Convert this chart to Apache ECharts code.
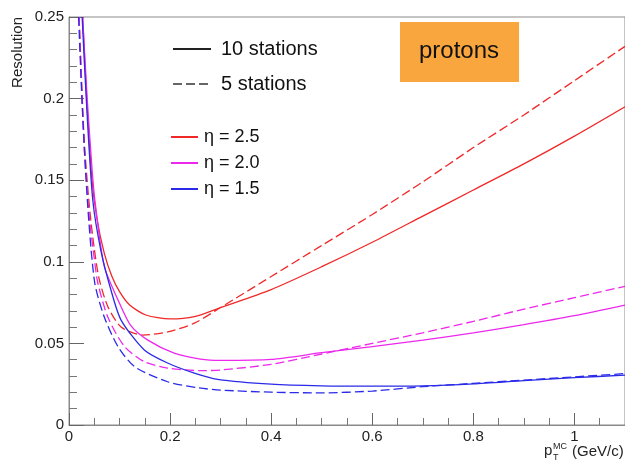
<!DOCTYPE html>
<html lang="en" style="height: 100%">
<head>
<meta charset="utf-8">
<title>Resolution vs pT - protons</title>
</head>
<body style="height: 100%; margin: 0; background: #fff">
<div id="container" style="height: 100%"></div>

<script type="text/javascript" src="https://cdn.jsdelivr.net/npm/echarts@6/dist/echarts.min.js"></script>

<script type="text/javascript">

var dom = document.getElementById('container');
var myChart = echarts.init(dom);

// [pT, resolution]
const eta25_10st = [
    [0.027, 0.25], [0.035, 0.20], [0.045, 0.152], [0.055, 0.127], [0.07, 0.105],
    [0.085, 0.091], [0.10, 0.0817], [0.12, 0.0735], [0.152, 0.0674], [0.20, 0.065],
    [0.248, 0.0664], [0.30, 0.072], [0.40, 0.083], [0.50, 0.097], [0.60, 0.112],
    [0.70, 0.128], [0.80, 0.144], [0.90, 0.160], [1.00, 0.177], [1.10, 0.195]
];
const eta25_5st = [
    [0.020, 0.25], [0.03, 0.175], [0.04, 0.135], [0.05, 0.108], [0.06, 0.089],
    [0.077, 0.0725], [0.103, 0.060], [0.146, 0.0551], [0.195, 0.057], [0.248, 0.0624],
    [0.30, 0.072], [0.40, 0.091], [0.50, 0.110], [0.60, 0.129], [0.70, 0.149],
    [0.80, 0.170], [0.90, 0.190], [1.00, 0.211], [1.10, 0.232]
];
const eta20_10st = [
    [0.027, 0.25], [0.036, 0.20], [0.046, 0.155], [0.053, 0.133], [0.07, 0.097],
    [0.097, 0.0766], [0.122, 0.061], [0.156, 0.052], [0.208, 0.044], [0.26, 0.0404],
    [0.30, 0.0396], [0.40, 0.0402], [0.50, 0.0443], [0.60, 0.048], [0.70, 0.052],
    [0.80, 0.0565], [0.90, 0.0615], [1.00, 0.067], [1.10, 0.0735]
];
const eta20_5st = [
    [0.020, 0.25], [0.03, 0.17], [0.04, 0.128], [0.05, 0.102], [0.057, 0.087],
    [0.077, 0.066], [0.11, 0.048], [0.149, 0.0388], [0.195, 0.0349], [0.26, 0.0333],
    [0.30, 0.0337], [0.40, 0.0372], [0.50, 0.0435], [0.60, 0.050], [0.70, 0.0565],
    [0.80, 0.0635], [0.90, 0.071], [1.00, 0.078], [1.10, 0.085]
];
const eta15_10st = [
    [0.026, 0.25], [0.035, 0.195], [0.047, 0.138], [0.063, 0.107], [0.083, 0.0827],
    [0.103, 0.0643], [0.149, 0.046], [0.195, 0.038], [0.248, 0.0318], [0.294, 0.028],
    [0.40, 0.025], [0.50, 0.024], [0.60, 0.0238], [0.70, 0.024], [0.80, 0.0252],
    [0.90, 0.0272], [1.00, 0.029], [1.10, 0.0305]
];
const eta15_5st = [
    [0.019, 0.25], [0.027, 0.19], [0.038, 0.13], [0.051, 0.087], [0.07, 0.066],
    [0.097, 0.048], [0.13, 0.0357], [0.195, 0.0265], [0.258, 0.0227], [0.30, 0.0214],
    [0.40, 0.0201], [0.50, 0.0197], [0.60, 0.0208], [0.70, 0.0235], [0.80, 0.0255],
    [0.90, 0.0275], [1.00, 0.0295], [1.10, 0.0315]
];

const stationNames = ['10 stations', '5 stations'];
const etaNames = ['\u03b7 = 2.5', '\u03b7 = 2.0', '\u03b7 = 1.5'];
const etaColors = ['#f02828', '#ec28ec', '#2a2ae8'];

const FONT = 'Liberation Sans, Arial, sans-serif';
const DASH = [9, 4];

function curve(name, data, color, dashed) {
    return {
        name: name,
        type: 'line',
        data: data,
        showSymbol: false,
        symbol: 'none',
        smooth: 0.25,
        lineStyle: { color: color, width: 1.3, type: dashed ? DASH : 'solid' },
        itemStyle: { color: color },
        z: 3
    };
}

// series used only for the legend entries
function legendOnly(name, color, dashed) {
    return {
        name: name,
        type: 'line',
        data: [],
        symbol: 'none',
        lineStyle: { color: color, width: 1.3, type: dashed ? DASH : 'solid' },
        itemStyle: { color: color }
    };
}

var option = {
    animation: false,
    backgroundColor: '#fff',
    title: {
        text: 'protons',
        left: 400,
        top: 22,
        backgroundColor: '#faa63e',
        padding: [16, 20, 17, 19],
        textStyle: { fontFamily: FONT, fontSize: 24, lineHeight: 27, fontWeight: 'normal', color: '#111' }
    },
    legend: [
        {
            data: stationNames,
            orient: 'vertical',
            left: 172,
            top: 39,
            padding: 0,
            itemWidth: 38,
            itemHeight: 20,
            itemGap: 15,
            selectedMode: false,
            itemStyle: { opacity: 0 },
            textStyle: { fontFamily: FONT, fontSize: 20, color: '#111', padding: [0, 0, 0, 5] }
        },
        {
            data: etaNames,
            orient: 'vertical',
            left: 170,
            top: 128,
            padding: 0,
            itemWidth: 27,
            itemHeight: 18,
            itemGap: 8,
            selectedMode: false,
            itemStyle: { opacity: 0 },
            textStyle: { fontFamily: FONT, fontSize: 18, color: '#111', padding: [0, 0, 0, 1] }
        }
    ],
    grid: {
        left: 69,
        top: 17,
        width: 558,
        height: 408,
        show: true,
        borderColor: '#8a8a8a',
        borderWidth: 1
    },
    xAxis: {
        type: 'value',
        min: 0,
        max: 1.1,
        interval: 0.2,
        axisLine: { lineStyle: { color: '#8a8a8a', width: 1 } },
        axisTick: { inside: true, length: 12, lineStyle: { color: '#666' } },
        minorTick: { show: true, splitNumber: 4, length: 7, lineStyle: { color: '#777' } },
        splitLine: { show: false },
        axisLabel: { fontFamily: FONT, fontSize: 15, color: '#222', margin: 4, showMaxLabel: false }
    },
    yAxis: {
        type: 'value',
        min: 0,
        max: 0.25,
        interval: 0.05,
        axisLine: { show: true, lineStyle: { color: '#8a8a8a', width: 1 } },
        axisTick: { show: true, inside: true, length: 15, lineStyle: { color: '#666' } },
        minorTick: { show: true, splitNumber: 5, length: 8, lineStyle: { color: '#777' } },
        splitLine: { show: false },
        axisLabel: { fontFamily: FONT, fontSize: 15, color: '#222', margin: 5 }
    },
    graphic: [
        {
            type: 'text',
            x: 18,
            y: 17,
            rotation: Math.PI / 2,
            style: { text: 'Resolution', font: '15px ' + FONT, fill: '#222', align: 'right', verticalAlign: 'middle' }
        },
        {
            type: 'group',
            children: [
                { type: 'text', x: 544, y: 451, style: { text: 'p', font: '15px ' + FONT, fill: '#222', verticalAlign: 'middle' } },
                { type: 'text', x: 553, y: 447, style: { text: 'MC', font: '9px ' + FONT, fill: '#222', verticalAlign: 'middle' } },
                { type: 'text', x: 553, y: 458, style: { text: 'T', font: '9px ' + FONT, fill: '#222', verticalAlign: 'middle' } },
                { type: 'text', x: 572, y: 452, style: { text: '(GeV/c)', font: '15px ' + FONT, fill: '#222', verticalAlign: 'middle' } }
            ]
        }
    ],
    series: [
        legendOnly(stationNames[0], '#222', false),
        legendOnly(stationNames[1], '#666', true),
        legendOnly(etaNames[0], etaColors[0], false),
        legendOnly(etaNames[1], etaColors[1], false),
        legendOnly(etaNames[2], etaColors[2], false),
        curve('\u03b7 = 2.5, 10 stations', eta25_10st, etaColors[0], false),
        curve('\u03b7 = 2.5, 5 stations', eta25_5st, etaColors[0], true),
        curve('\u03b7 = 2.0, 10 stations', eta20_10st, etaColors[1], false),
        curve('\u03b7 = 2.0, 5 stations', eta20_5st, etaColors[1], true),
        curve('\u03b7 = 1.5, 10 stations', eta15_10st, etaColors[2], false),
        curve('\u03b7 = 1.5, 5 stations', eta15_5st, etaColors[2], true)
    ]
};

myChart.setOption(option);
window.addEventListener('resize', myChart.resize);
</script>
</body>
</html>
